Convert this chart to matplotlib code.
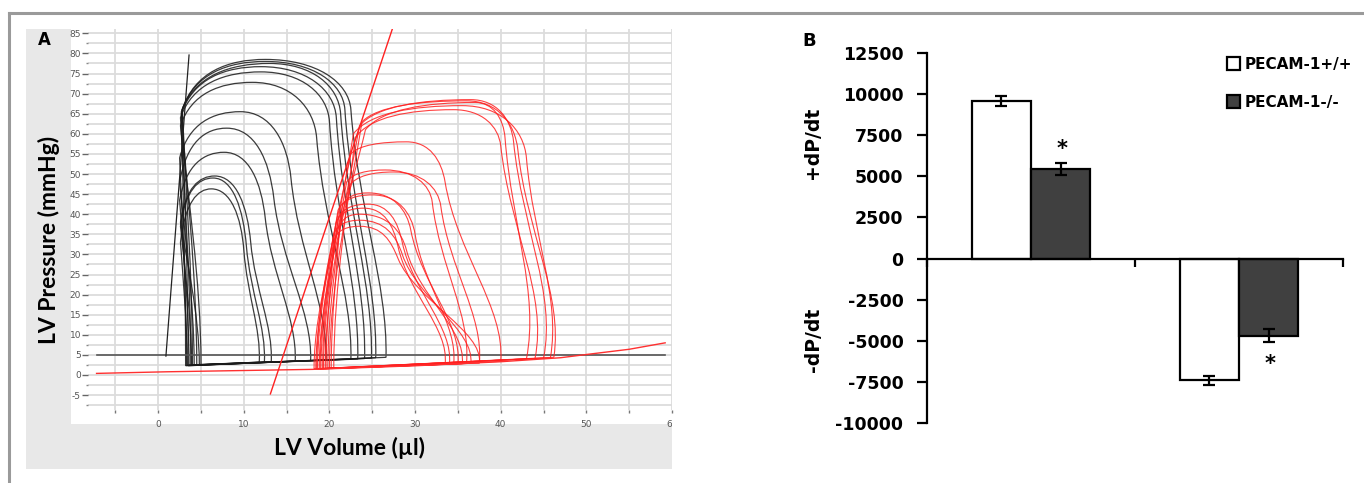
import numpy as np
import matplotlib
matplotlib.use("Agg")
import matplotlib.pyplot as plt
from matplotlib.path import Path
from matplotlib.patches import PathPatch, Rectangle, Patch
from matplotlib.lines import Line2D
from matplotlib.transforms import Bbox, TransformedBbox
from matplotlib.ticker import MultipleLocator, FixedLocator

plt.rcParams["axes.unicode_minus"] = False

# ---------------- panel A: PV loops ----------------
# black loops (PECAM-1+/+): left-bottom, left-top, peak, right-top, bulge, end-diastole
blk_vlb = [3.5, 4.0, 3.2, 4.5, 3.8, 5.0, 3.3, 4.2, 3.6, 4.8, 3.9, 3.4]
blk_pbl = [2.3, 2.4, 2.3, 2.5, 2.4, 2.5, 2.4, 2.5, 2.4, 2.6, 2.5, 2.4]
blk_vlt = [2.8, 2.8, 2.7, 2.7, 2.6, 2.6, 2.5, 2.5, 2.5, 2.6, 2.6, 2.6]
blk_plt = [66, 66, 65.5, 65, 64, 62, 54, 48, 43.5, 38, 37, 33]
blk_vpk = [12.5, 12.5, 13.0, 12.0, 12.0, 11.0, 9.6, 8.0, 7.7, 6.6, 6.4, 6.2]
blk_ppk = [78.5, 78.0, 77.5, 76.7, 75.4, 72.8, 65.5, 61.4, 55.4, 49.5, 49.0, 46.3]
blk_vrt = [22.5, 21.8, 21.3, 20.8, 20.0, 18.5, 15.5, 13.5, 12.5, 10.8, 10.3, 10.0]
blk_prt = [66, 66, 65, 64, 63, 59, 49, 44, 39, 33, 32, 31]
blk_vbx = [26.8, 25.6, 25.1, 24.3, 23.5, 22.7, 19.8, 18.0, 16.2, 13.4, 12.6, 12.0]
blk_ved = [26.6, 25.4, 24.9, 24.1, 23.3, 22.5, 19.6, 17.8, 16.0, 13.2, 12.4, 11.8]
blk_ped = [4.4, 4.3, 4.2, 4.1, 4.0, 3.9, 3.7, 3.6, 3.5, 3.3, 3.2, 3.2]

# red loops (PECAM-1-/-)
red_vlb = [19.5, 20.0, 18.8, 19.2, 20.5, 18.5, 19.0, 18.2, 19.8, 18.6, 19.3, 18.9, 20.2, 18.4, 19.6]
red_pbl = [1.6, 1.7, 1.6, 1.6, 1.7, 1.5, 1.6, 1.5, 1.6, 1.5, 1.6, 1.5, 1.6, 1.5, 1.6]
red_vlt = [23.5, 23.8, 24.2, 22.8, 23.0, 22.5, 22.0, 22.3, 21.5, 21.0, 21.0, 20.8, 21.2, 20.5, 20.6]
red_plt = [62, 63, 61, 60, 59, 55, 48, 47, 42, 41, 39, 38, 37, 35, 34]
red_vpk = [36.5, 36.0, 37.0, 35.5, 34.5, 29.0, 26.5, 27.5, 24.5, 25.0, 24.5, 24.0, 23.5, 23.5, 23.5]
red_ppk = [68.5, 68.2, 67.8, 67.0, 66.0, 58.0, 51.0, 50.5, 45.3, 44.8, 42.5, 41.5, 40.0, 38.5, 37.0]
red_vrt = [41.5, 42.0, 40.5, 43.0, 40.0, 33.5, 32.0, 33.0, 29.5, 30.0, 28.5, 28.0, 29.0, 28.5, 28.0]
red_prt = [58, 56, 59, 54, 57, 48, 43, 42, 36, 35, 33, 32, 31, 30, 29]
red_vbx = [46.5, 47.3, 44.5, 47.0, 45.5, 40.5, 36.5, 38.0, 35.5, 35.0, 34.5, 34.0, 36.0, 37.0, 38.0]
red_ved = [45.0, 46.2, 43.0, 45.8, 44.0, 40.0, 36.0, 37.5, 35.0, 34.5, 34.0, 33.5, 35.5, 36.5, 37.5]
red_ped = [4.2, 4.4, 4.0, 4.3, 4.1, 3.4, 2.9, 3.0, 2.8, 2.8, 2.7, 2.7, 2.8, 2.9, 3.0]

# straight reference lines
blk_espvr_v = [0.9, 3.6]
blk_espvr_p = [4.7, 79.6]
red_espvr_v = [13.1, 27.8]
red_espvr_p = [-4.7, 89.0]
baseline_v = [-7.2, 59.2]
baseline_p = [5.0, 5.0]
red_edpvr_v = [-7.2, 1.0, 18.0, 30.0, 40.0, 47.0, 50.0, 55.0, 59.2]
red_edpvr_p = [0.4, 0.8, 1.4, 2.3, 3.3, 4.3, 5.1, 6.4, 8.0]

# ---------------- panel B: dP/dt bars ----------------
groups = ["+dP/dt", "-dP/dt"]
wt_vals = [9600, -7400]
wt_err = [300, 270]
ko_vals = [5450, -4700]
ko_err = [360, 390]
legend_labels = ["PECAM-1+/+", "PECAM-1-/-"]

W, H = 1364, 483
fig = plt.figure(figsize=(W / 100, H / 100), dpi=100)


def fx(px):
    return px / W


def fy(py):
    return 1 - py / H


# outer frame
fig.add_artist(Line2D([fx(9.3), 1], [fy(12.7), fy(12.7)], color="#9a9a9a", lw=2.2,
                      transform=fig.transFigure))
fig.add_artist(Line2D([fx(9.3), fx(9.3)], [fy(12.7), 0], color="#9a9a9a", lw=2.2,
                      transform=fig.transFigure))
# panel A backgrounds
fig.add_artist(Rectangle((fx(26), fy(469)), fx(672) - fx(26), (469 - 29) / H,
                         facecolor="#e8e8e8", edgecolor="none", transform=fig.transFigure, zorder=-10))
fig.add_artist(Rectangle((fx(71), fy(424)), fx(672) - fx(71), (424 - 29) / H,
                         facecolor="white", edgecolor="none", transform=fig.transFigure, zorder=-9))

ax = fig.add_axes([fx(88), fy(410), fx(672) - fx(88), (410 - 29) / H])
ax.set_xlim(-8.2, 60)
ax.set_ylim((375 - 410) / 4.02, (375 - 29) / 4.02)
for s in ax.spines.values():
    s.set_visible(False)
ax.xaxis.set_major_locator(MultipleLocator(10))
ax.xaxis.set_minor_locator(MultipleLocator(5))
ax.yaxis.set_major_locator(FixedLocator(np.arange(-5, 86, 5)))
ax.yaxis.set_minor_locator(MultipleLocator(2.5))
ax.grid(True, which="both", axis="y", color="#dcdcdc", lw=1.3)
ax.grid(True, which="both", axis="x", color="#dcdcdc", lw=1.3)
ax.set_axisbelow(True)
ax.tick_params(axis="y", which="major", length=4, width=1, color="#666", labelsize=6.5,
               labelcolor="#555", pad=1)
ax.tick_params(axis="y", which="minor", length=1.5, width=1, color="#888")
ax.tick_params(axis="x", which="both", length=2, width=1, color="#777", labelsize=6.5,
               labelcolor="#555", pad=5)
clipbox = TransformedBbox(Bbox([[0, 0], [fx(672), 1]]), fig.transFigure)
for lbl in ax.get_xticklabels():
    lbl.set_clip_on(True)
    lbl.set_clip_box(clipbox)


def loop(vlb, pbl, vlt, plt_, vpk, ppk, vrt, prt, vbx, ved, ped):
    a = 0.55 * (ppk - prt)          # handle above the right-top point
    b = 0.4 * (prt - ped)           # handle below it
    s = 0.2 * (vbx - vrt) / b       # shared slope keeps the corner smooth
    verts = [
        (vlb, pbl),
        (vlb, pbl + 0.35 * (plt_ - pbl)), (vlt - 0.3 * (vlt - vlb), plt_ - 0.25 * (plt_ - pbl)), (vlt, plt_),
        (vlt + 0.15 * (vpk - vlt), plt_ + 0.75 * (ppk - plt_)), (vpk - 0.45 * (vpk - vlt), ppk), (vpk, ppk),
        (vpk + 0.6 * (vrt - vpk), ppk), (vrt - s * a, prt + a), (vrt, prt),
        (vrt + s * b, prt - b), (vbx, ped + 0.3 * (prt - ped)), (ved, ped),
        (vlb, pbl),
    ]
    codes = [Path.MOVETO] + [Path.CURVE4] * 12 + [Path.LINETO]
    return Path(verts, codes)


for args in zip(red_vlb, red_pbl, red_vlt, red_plt, red_vpk, red_ppk, red_vrt, red_prt,
                red_vbx, red_ved, red_ped):
    ax.add_patch(PathPatch(loop(*args), facecolor="none", edgecolor="#ff2020", lw=0.8, alpha=0.85, zorder=3))
for args in zip(blk_vlb, blk_pbl, blk_vlt, blk_plt, blk_vpk, blk_ppk, blk_vrt, blk_prt,
                blk_vbx, blk_ved, blk_ped):
    ax.add_patch(PathPatch(loop(*args), facecolor="none", edgecolor="#1a1a1a", lw=0.9, alpha=0.85, zorder=2))

ax.plot(baseline_v, baseline_p, color="#555", lw=1.2, zorder=2)
ax.plot(red_edpvr_v, red_edpvr_p, color="#ff3030", lw=1.0, zorder=3)
ax.plot(red_espvr_v, red_espvr_p, color="#ff2020", lw=1.0, zorder=3)
ax.plot(blk_espvr_v, blk_espvr_p, color="#222", lw=0.9, zorder=2)

fig.text(fx(49), fy(240), "LV Pressure (mmHg)", rotation=90, ha="center", va="center",
         family="Lato", weight="bold", fontsize=16.5)
fig.text(fx(349), fy(448), "LV Volume (µl)", ha="center", va="center",
         family="Lato", weight="bold", fontsize=16.5)
fig.text(fx(44), fy(40), "A", ha="center", va="center", weight="bold", fontsize=12)

# ---------------- panel B ----------------
bx = fig.add_axes([fx(927), fy(423), fx(1343) - fx(927), (423 - 53) / H])
bx.set_xlim(0, 2)
bx.set_ylim(-10000, 12500)
bw = 0.285
xc = np.array([0.5, 1.5])
bx.bar(xc - bw, wt_vals, bw, align="edge", color="white", edgecolor="black", lw=1.6,
       label=legend_labels[0], zorder=2)
bx.bar(xc, ko_vals, bw, align="edge", color="#404040", edgecolor="black", lw=1.6,
       label=legend_labels[1], zorder=2)
bx.errorbar(xc - bw / 2, wt_vals, yerr=wt_err, fmt="none", ecolor="black", elinewidth=1.6,
            capsize=4.5, capthick=1.6, zorder=3)
bx.errorbar(xc + bw / 2, ko_vals, yerr=ko_err, fmt="none", ecolor="black", elinewidth=1.6,
            capsize=4.5, capthick=1.6, zorder=3)
bx.text(xc[0] + bw / 2 + 0.007, 6650, "*", ha="center", va="center", fontsize=15, weight="bold")
bx.text(xc[1] + bw / 2 + 0.007, -6400, "*", ha="center", va="center", fontsize=15, weight="bold")

for s in ["top", "right"]:
    bx.spines[s].set_visible(False)
bx.spines["bottom"].set_position(("data", 0))
bx.spines["left"].set_linewidth(1.6)
bx.spines["bottom"].set_linewidth(1.6)
bx.set_yticks(np.arange(-10000, 12501, 2500))
bx.set_xticks([0, 1, 2])
bx.set_xticklabels([])
bx.tick_params(axis="y", length=7, width=1.6, labelsize=12.5, pad=10)
bx.tick_params(axis="x", length=6, width=1.6)
for lbl in bx.get_yticklabels():
    lbl.set_fontweight("bold")

bx.legend(handles=[Patch(facecolor="white", edgecolor="black", lw=1.6, label=legend_labels[0]),
                   Patch(facecolor="#404040", edgecolor="black", lw=1.6, label=legend_labels[1])],
          loc="upper left", bbox_to_anchor=(fx(1227), fy(57)), bbox_transform=fig.transFigure,
          frameon=False, prop={"weight": "bold", "size": 11}, handlelength=0.85, handleheight=0.95,
          handletextpad=0.3, labelspacing=1.5, borderaxespad=0, borderpad=0)

fig.text(fx(813), fy(143), groups[0], rotation=90, ha="center", va="center", weight="bold", fontsize=13.5)
fig.text(fx(813), fy(340), groups[1], rotation=90, ha="center", va="center", weight="bold", fontsize=13.5)
fig.text(fx(809), fy(41), "B", ha="center", va="center", weight="bold", fontsize=13)

fig.savefig("out.png", dpi=100)
